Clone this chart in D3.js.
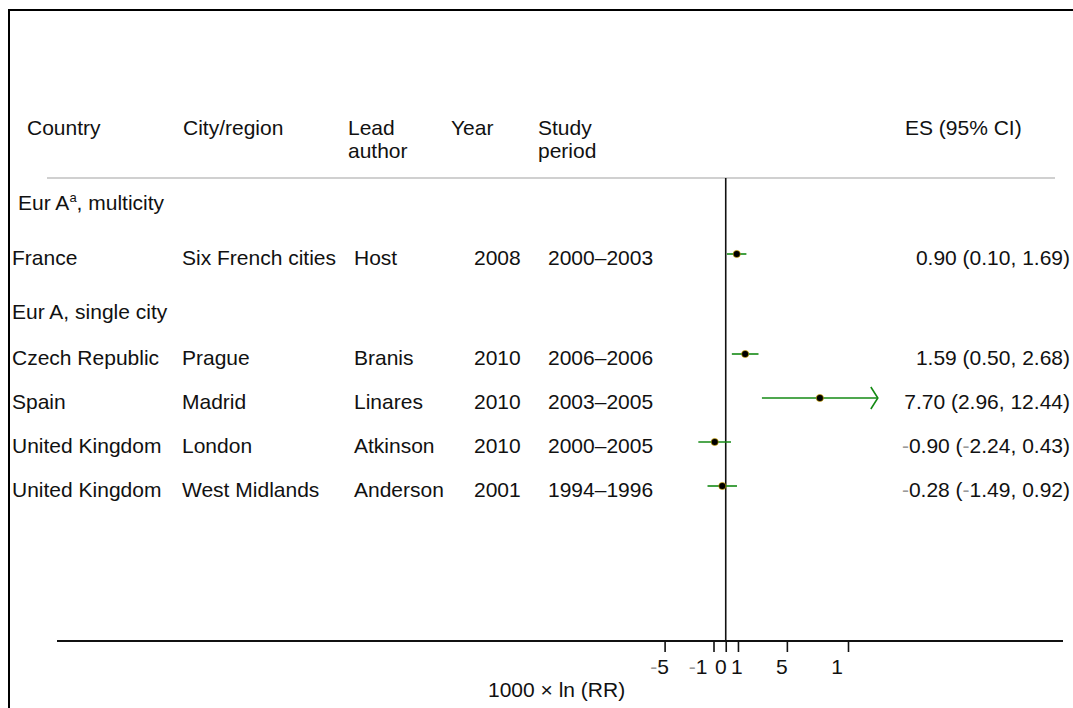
<!DOCTYPE html>
<html>
<head>
<meta charset="utf-8">
<script src="https://cdn.jsdelivr.net/npm/d3@7"></script>
<style>
  html, body { margin: 0; padding: 0; background: #fff; }
  svg { display: block; font-family: "Liberation Sans", Arial, sans-serif; }
</style>
</head>
<body>
<svg id="chart" width="1073" height="708"></svg>
<script>
// ---- data ----
const groupLabels = ["Eur A", "Eur A, single city"];
const countries = ["France", "Czech Republic", "Spain", "United Kingdom", "United Kingdom"];
const cities = ["Six French cities", "Prague", "Madrid", "London", "West Midlands"];
const authors = ["Host", "Branis", "Linares", "Atkinson", "Anderson"];
const years = ["2008", "2010", "2010", "2010", "2001"];
const periods = ["2000–2003", "2006–2006", "2003–2005", "2000–2005", "1994–1996"];
const es = [0.90, 1.59, 7.70, -0.90, -0.28];
const lower = [0.10, 0.50, 2.96, -2.24, -1.49];
const upper = [1.69, 2.68, 12.44, 0.43, 0.92];
const esLabels = ["0.90 (0.10, 1.69)", "1.59 (0.50, 2.68)", "7.70 (2.96, 12.44)", "-0.90 (-2.24, 0.43)", "-0.28 (-1.49, 0.92)"];
const tickValues = [-5, -1, 0, 1, 5, 10];
const tickLabels = ["-5", "-1", "0", "1", "5", "1"];
const axisTitle = "1000 × ln (RR)";

// ---- layout ----
const svg = d3.select("#chart");
const W = 1073, H = 708;
const fs = 21;

// frame
svg.append("rect").attr("x", 9).attr("y", 10).attr("width", W + 20).attr("height", H + 20)
  .attr("fill", "none").attr("stroke", "#000").attr("stroke-width", 2);

// x scale (effect size)
const x = d3.scaleLinear().domain([-5, 10]).range([664.6, 848]);

// row positions
const rowKeys = ["g0", "s0", "g1", "s1", "s2", "s3", "s4"];
const y = d3.scaleOrdinal(rowKeys, [202, 257, 311, 357, 401, 445, 489]);
const studyKey = i => "s" + i;

// column anchors
const cols = { country: 12, city: 182, author: 354, year: 474, period: 548, es: 1070 };

// helper to write text with grey minus signs
function richText(sel, str) {
  const parts = str.split(/(-)/);
  parts.forEach(p => {
    if (p === "") return;
    if (p === "-") sel.append("tspan").attr("fill", "#9a9a9a").text("-");
    else sel.append("tspan").text(p);
  });
}

// headers
const headers = [
  { x: 27, lines: ["Country"] },
  { x: 183, lines: ["City/region"] },
  { x: 348, lines: ["Lead", "author"] },
  { x: 451, lines: ["Year"] },
  { x: 538, lines: ["Study", "period"] },
  { x: 905, lines: ["ES (95% CI)"] }
];
headers.forEach(h => {
  h.lines.forEach((l, k) => {
    svg.append("text").attr("x", h.x).attr("y", 135 + k * 23)
      .attr("font-size", fs).attr("fill", "#111").text(l);
  });
});

// grey separator
svg.append("line").attr("x1", 47).attr("x2", 1055).attr("y1", 178).attr("y2", 178)
  .attr("stroke", "#c0c0c0").attr("stroke-width", 1.5);

// group labels
const g0 = svg.append("text").attr("x", 18).attr("y", y("g0") + 7.5).attr("font-size", fs).attr("fill", "#111");
g0.append("tspan").text(groupLabels[0]);
g0.append("tspan").attr("font-size", 13).attr("dy", -8).text("a");
g0.append("tspan").attr("dy", 8).text(", multicity");
svg.append("text").attr("x", 12).attr("y", y("g1") + 7.5).attr("font-size", fs).attr("fill", "#111").text(groupLabels[1]);

// study rows text
const textCols = [
  { key: "country", arr: countries },
  { key: "city", arr: cities },
  { key: "author", arr: authors },
  { key: "year", arr: years },
  { key: "period", arr: periods }
];
textCols.forEach(c => {
  svg.append("g").selectAll("text").data(c.arr).join("text")
    .attr("x", cols[c.key]).attr("y", (d, i) => y(studyKey(i)) + 7.5)
    .attr("font-size", fs).attr("fill", "#111").text(d => d);
});
svg.append("g").selectAll("text").data(esLabels).join("text")
  .attr("x", cols.es).attr("y", (d, i) => y(studyKey(i)) + 7.5)
  .attr("text-anchor", "end").attr("font-size", fs).attr("fill", "#111")
  .each(function (d) { richText(d3.select(this), d); });

// null line
svg.append("line").attr("x1", x(0)).attr("x2", x(0)).attr("y1", 178).attr("y2", 641)
  .attr("stroke", "#111").attr("stroke-width", 1.6);

// CIs
const green = "#148a14";
const xMaxShown = 12;
const ci = svg.append("g");
es.forEach((v, i) => {
  const yy = y(studyKey(i)) - 3;
  const hi = upper[i];
  ci.append("line").attr("x1", x(lower[i])).attr("x2", x(hi)).attr("y1", yy).attr("y2", yy)
    .attr("stroke", green).attr("stroke-width", 1.6);
  if (hi > xMaxShown) {
    const xe = x(hi);
    ci.append("path").attr("d", `M${xe - 7},${yy - 11}L${xe},${yy}L${xe - 7},${yy + 11}`)
      .attr("fill", "none").attr("stroke", green).attr("stroke-width", 1.6);
  }
  ci.append("circle").attr("cx", x(v)).attr("cy", yy).attr("r", 3.6)
    .attr("fill", "#000").attr("stroke", "#e0b400").attr("stroke-width", 0.6);
});

// x axis
const axisY = 641;
svg.append("line").attr("x1", 57).attr("x2", 1063).attr("y1", axisY).attr("y2", axisY)
  .attr("stroke", "#111").attr("stroke-width", 2);
const ax = svg.append("g").attr("transform", `translate(0,${axisY})`)
  .call(d3.axisBottom(x).tickValues(tickValues).tickSize(11).tickFormat(""));
ax.select(".domain").remove();
ax.selectAll(".tick line").attr("stroke", "#111").attr("stroke-width", 1.6);
// tick labels: shifted slightly left like the reference; crowded ones nudged apart
const labelX = (d, i) => {
  if (d === -1) return x(d) - 6;
  if (d === 0) return x(d) - 5;
  if (d === 1) return x(d) - 1;
  if (i === tickValues.length - 1) return x(d) - 5;
  return x(d) - 5;
};
const labelAnchor = (d, i) => (d === -1 || i === tickValues.length - 1) ? "end" : "middle";
svg.append("g").selectAll("text").data(tickValues).join("text")
  .attr("x", labelX).attr("y", 674).attr("text-anchor", labelAnchor)
  .attr("font-size", fs).attr("fill", "#111")
  .each(function (d, i) { richText(d3.select(this), tickLabels[i]); });

svg.append("text").attr("x", 488).attr("y", 697).attr("font-size", fs).attr("fill", "#111").text(axisTitle);
</script>
</body>
</html>
